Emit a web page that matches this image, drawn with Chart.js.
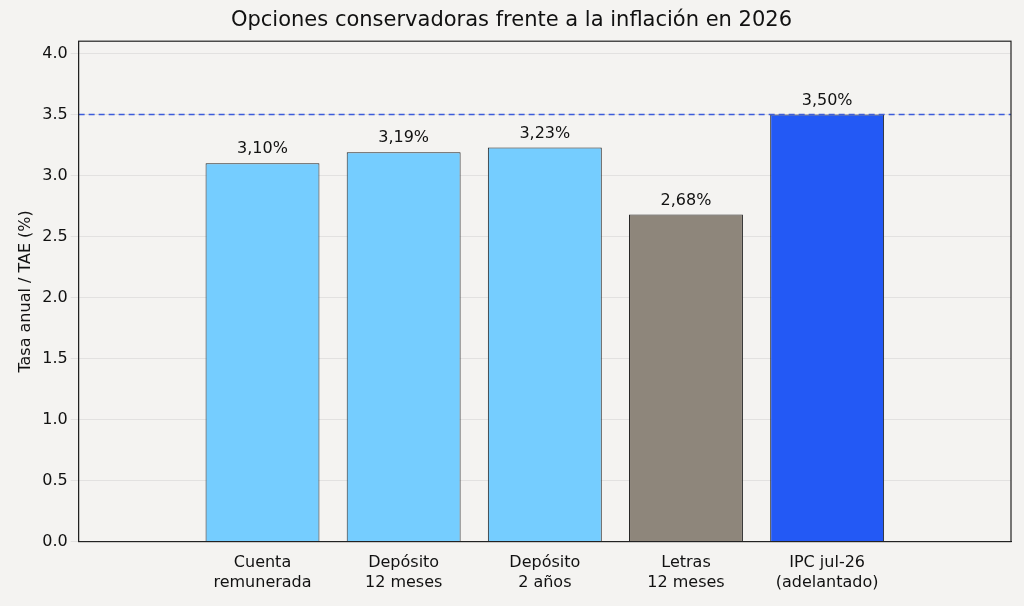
<!DOCTYPE html>
<html>
<head>
<meta charset="utf-8">
<script src="https://cdn.jsdelivr.net/npm/chart.js@4"></script>
<style>
  html, body { margin: 0; padding: 0; background: #f4f3f1; }
  #wrap { width: 1024px; height: 606px; }
</style>
</head>
<body>
<div id="wrap"><canvas id="chart" width="1024" height="606"></canvas></div>
<script>
// --- DATOS ---
const categories = [['Cuenta', 'remunerada'], ['Depósito', '12 meses'], ['Depósito', '2 años'], ['Letras', '12 meses'], ['IPC jul-26', '(adelantado)']];
const rates = [3.10, 3.19, 3.23, 2.68, 3.50];
const barColors = ['#75cdff', '#75cdff', '#75cdff', '#8e867b', '#2359f5'];
const inflationRef = 3.5;
const yTicks = [0, 0.5, 1, 1.5, 2, 2.5, 3, 3.5, 4];

// etiquetas sobre las barras y linea de referencia
const extrasPlugin = {
    id: 'extras',
    afterDatasetsDraw(chart) {
        const { ctx, chartArea, scales } = chart;
        const y = scales.y.getPixelForValue(inflationRef);
        ctx.save();
        ctx.strokeStyle = '#3b5bdb';
        ctx.lineWidth = 1.5;
        ctx.setLineDash([6, 4]);
        ctx.beginPath();
        ctx.moveTo(chartArea.left, y);
        ctx.lineTo(chartArea.right, y);
        ctx.stroke();
        ctx.setLineDash([]);
        ctx.fillStyle = '#111';
        ctx.font = '16px "DejaVu Sans"';
        ctx.textAlign = 'center';
        ctx.textBaseline = 'bottom';
        chart.getDatasetMeta(0).data.forEach((bar, i) => {
            ctx.fillText(rates[i].toFixed(2).replace('.', ',') + '%', bar.x, bar.y - 6);
        });
        ctx.restore();
    }
};

const frame = {
    id: 'frame',
    afterDraw(chart) {
        const { ctx, chartArea: a } = chart;
        ctx.save();
        ctx.strokeStyle = '#222';
        ctx.lineWidth = 1.2;
        ctx.strokeRect(a.left, a.top, a.right - a.left, a.bottom - a.top);
        ctx.restore();
    }
};

new Chart(document.getElementById('chart').getContext('2d'), {
    type: 'bar',
    data: {
        datasets: [{
            data: rates.map((v, i) => ({ x: i, y: v })),
            backgroundColor: barColors,
            borderColor: '#222',
            borderWidth: 1,
            barPercentage: 0.807,
            categoryPercentage: 1
        }]
    },
    options: {
        responsive: false, animation: false,
        layout: { padding: { left: 12, right: 13, top: 0, bottom: 10 } },
        plugins: {
            legend: { display: false },
            tooltip: { enabled: false },
            title: {
                display: true,
                text: 'Opciones conservadoras frente a la inflación en 2026',
                color: '#111',
                font: { family: 'DejaVu Sans', size: 21, weight: 'normal' },
                padding: { top: 8, bottom: 8 }
            }
        },
        scales: {
            x: {
                type: 'linear',
                min: -0.642, max: 4.642,
                afterBuildTicks: s => { s.ticks = categories.map((c, i) => ({ value: i })); },
                grid: { display: false },
                border: { color: '#222' },
                ticks: { color: '#111', font: { family: 'DejaVu Sans', size: 16 }, padding: 4, callback: v => categories[v] }
            },
            y: {
                min: 0, max: 4.1,
                afterBuildTicks: s => { s.ticks = yTicks.map(v => ({ value: v })); },
                grid: { color: 'rgba(0,0,0,0.07)' },
                border: { color: '#222' },
                ticks: { color: '#111', font: { family: 'DejaVu Sans', size: 16 }, callback: v => v.toFixed(1) },
                title: { display: true, text: 'Tasa anual / TAE (%)', color: '#111', font: { family: 'DejaVu Sans', size: 16 } }
            }
        }
    },
    plugins: [extrasPlugin, frame]
});
</script>
</body>
</html>
